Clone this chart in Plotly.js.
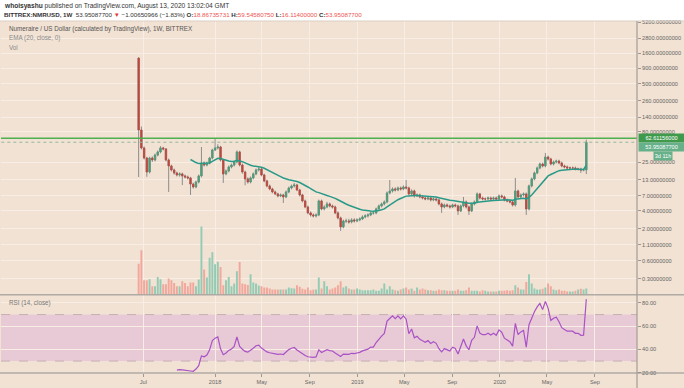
<!DOCTYPE html>
<html><head><meta charset="utf-8">
<script src="https://cdn.plot.ly/plotly-3.0.1.min.js"></script>
<style>html,body{margin:0;padding:0;background:#fff;}#chart{width:684px;height:388px;}</style>
</head><body><div id="chart"></div>
<script>
// Weekly NMR/USD candles (Bittrex), first bar week of 2017-06-19
const firstWeek = Date.UTC(2017, 5, 19);
const openP = [
1322,85.9,43.4,29.6,17.4,29.6,27.5,33.2,37.3,43.4,
41.8,27.5,21.9,18.8,16.8,15.55,16.2,15.0,14.4,13.9,
11.0,9.86,11.9,15.0,24.5,22.7,24.5,29.6,40.2,43.4,
45.0,27.5,16.2,18.1,21.1,22.7,25.5,37.3,22.7,17.4,
13.4,11.9,13.9,16.2,18.8,19.5,15.55,12.4,10.24,9.14,
8.16,7.56,7.01,7.28,6.75,8.16,9.49,10.24,10.64,8.80,
7.28,5.80,4.61,3.68,3.41,3.28,3.41,5.80,4.28,4.61,
5.17,4.79,4.61,3.68,3.04,2.16,2.71,2.71,2.61,2.82,
2.71,2.82,2.93,3.16,3.28,3.41,3.68,3.68,4.28,4.79,
5.17,5.58,7.85,8.47,9.14,8.80,9.49,9.14,9.86,9.49,
7.56,8.47,7.01,7.28,6.75,6.49,6.25,6.49,6.02,6.25,
6.02,5.17,4.61,4.98,4.79,4.61,4.98,4.79,3.97,4.79,
5.58,4.61,3.97,5.17,5.58,7.56,6.49,6.25,6.25,6.49,
6.25,6.49,6.25,7.01,6.75,6.02,5.80,5.58,4.98,8.47,
6.75,7.28,7.56,4.28,10.24,13.4,16.8,20.3,23.6,21.9,
30.8,28.5,23.6,25.5,26.4,24.5,21.9,21.1,20.3,20.3,
20.3,19.5,19.5,18.8,18.86735731];
const highP = [
1340,98,46,31,31,31.5,35,39.5,46.5,45.5,
43,29,23,19.8,17.6,17.2,17,15.8,15.2,14.5,
11.6,12.5,15.8,45.0,26,25.8,31,42,61.0,50,
47,28.5,19.2,22.3,24,27,39.5,39,24,18.3,
14.2,14.7,17.1,19.9,21.1,20.5,16.3,13,10.8,9.6,
8.6,7.9,7.7,7.6,8.6,10.0,10.8,11.5,11.1,9.2,
7.6,6.1,4.85,3.9,3.6,3.6,6.1,6.1,4.9,5.6,
5.45,5.05,4.85,3.9,3.2,2.85,2.95,2.95,3.0,3.0,
3.0,3.1,3.35,3.5,3.6,3.9,3.95,4.5,5.05,5.45,
5.9,8.3,12.86,9.7,9.7,10.0,10.0,10.5,12.86,10.0,
9.0,8.9,7.7,7.65,7.1,6.85,6.85,6.85,6.6,6.6,
6.35,5.45,5.25,5.25,5.05,5.25,5.25,5.05,5.05,6.75,
5.9,4.85,5.45,5.9,8.0,7.9,6.85,6.6,6.85,6.85,
6.85,6.85,7.4,7.4,7.1,6.35,6.1,5.9,13.9,8.9,
7.7,8.0,8.0,10.8,14.1,17.7,21.4,24.9,24.9,35.9,
32.4,29.9,26.9,27.8,27.8,25.8,23.0,22.2,21.4,21.4,
21.4,20.5,20.5,19.8,59.5458075];
const lowP = [
14.4,41,28,14.5,16.5,25.5,26,31.5,35.5,39.5,
26,8.16,17.8,15.8,14.7,14.6,10.6,13.6,13.1,7.28,
9.3,9.4,11.3,14.2,21.5,21.6,23.3,28.2,38.5,41,
26,11.5,15.4,17.2,20,21.5,24.2,21.5,16.3,10.5,
11.2,11.3,13.2,15.4,17.8,14.8,11.8,9.7,8.7,7.75,
7.2,6.65,6.7,5.37,6.45,7.8,9.0,9.7,8.4,6.9,
5.5,4.4,3.5,3.2,3.1,3.1,3.25,4.05,4.05,4.4,
4.55,4.35,3.5,2.88,1.86,2.05,2.5,2.45,2.48,2.55,
2.58,2.68,2.8,3.0,3.1,3.25,3.45,3.5,4.1,4.55,
4.9,5.3,7.45,8.0,8.3,8.4,8.6,8.7,9.0,7.2,
7.2,6.6,6.7,6.4,6.15,5.95,5.95,5.7,5.75,5.7,
4.9,3.68,4.4,4.55,4.35,4.4,4.55,3.41,3.8,4.55,
4.35,3.41,3.8,4.9,5.3,6.15,5.95,5.9,5.95,5.95,
5.95,5.95,5.95,6.4,5.7,5.5,5.3,4.7,4.7,6.4,
6.4,6.9,3.41,4.05,9.7,12.7,16.0,19.3,20.8,20.8,
27.0,22.4,22.4,24.2,23.3,20.8,20.0,19.3,19.3,19.3,
18.5,18.5,16.8,17.9,16.114];
const closeP = [
85.9,43.4,29.6,17.4,29.6,27.5,33.2,37.3,43.4,41.8,
27.5,21.9,18.8,16.8,15.55,16.2,15.0,14.4,13.9,11.0,
9.86,11.9,15.0,24.5,22.7,24.5,29.6,40.2,43.4,45.0,
27.5,16.2,18.1,21.1,22.7,25.5,37.3,22.7,17.4,13.4,
11.9,13.9,16.2,18.8,19.5,15.55,12.4,10.24,9.14,8.16,
7.56,7.01,7.28,6.75,8.16,9.49,10.24,10.64,8.80,7.28,
5.80,4.61,3.68,3.41,3.28,3.41,5.80,4.28,4.61,5.17,
4.79,4.61,3.68,3.04,2.16,2.71,2.71,2.61,2.82,2.71,
2.82,2.93,3.16,3.28,3.41,3.68,3.68,4.28,4.79,5.17,
5.58,7.85,8.47,9.14,8.80,9.49,9.14,9.86,9.49,7.56,
8.47,7.01,7.28,6.75,6.49,6.25,6.49,6.02,6.25,6.02,
5.17,4.61,4.98,4.79,4.61,4.98,4.79,3.97,4.79,5.58,
4.61,3.97,5.17,5.58,7.56,6.49,6.25,6.25,6.49,6.25,
6.49,6.25,7.01,6.75,6.02,5.80,5.58,4.98,8.47,6.75,
7.28,7.56,4.28,10.24,13.4,16.8,20.3,23.6,21.9,30.8,
28.5,23.6,25.5,26.4,24.5,21.9,21.1,20.3,20.3,20.3,
19.5,19.5,18.8,18.86735731,53.950877];
const volume = [
93,133,43,43,46,25,25,53,46,31,
31,48,43,35,25,25,40,35,25,36,
36,25,45,205,75,51,111,127,91,99,
83,28,43,53,25,33,70,98,33,31,
29,61,36,33,27,25,21,21,18,15,
15,15,15,15,15,21,19,18,28,23,
17,15,21,13,15,15,51,18,40,25,
15,18,21,28,40,21,25,18,15,15,
18,15,13,13,13,13,15,11,11,18,
33,15,25,15,13,11,15,18,21,15,
18,11,21,15,18,15,13,13,11,11,
15,13,13,11,11,11,11,15,11,11,
13,21,11,11,11,9,13,11,9,9,
9,9,11,11,11,13,11,13,28,21,
15,15,38,61,33,18,15,15,17,21,
33,25,15,13,15,11,11,9,9,9,
11,15,17,15,18];
const levelLine = 62.61156;
const lastPrice = 53.950877;
const countdown = '3d 11h';
const priceTicks = [0.3,0.6,1.1,2,4,7,13,25,80,140,260,500,900,1600,2800,5200];
const rsiTicks = [20,40,60,80];
const dateTickVals = ['2017-07-01','2018-01-01','2018-05-01','2018-09-01','2019-01-01','2019-05-01','2019-09-01','2020-01-01','2020-05-01','2020-09-01'];
const dateTickText = ['Jul','2018','May','Sep','2019','May','Sep','2020','May','Sep'];

const dates = closeP.map((_, i) => new Date(firstWeek + i * 7 * 86400000).toISOString().slice(0, 10));

function emaCalc(src, len) {
  const out = new Array(src.length).fill(null);
  const a = 2 / (len + 1); let s = 0;
  for (let i = 0; i < src.length; i++) {
    if (i < len - 1) { s += src[i]; continue; }
    if (i === len - 1) { s += src[i]; out[i] = s / len; continue; }
    out[i] = a * src[i] + (1 - a) * out[i - 1];
  }
  return out;
}
function rsiCalc(src, len) {
  const out = new Array(src.length).fill(null);
  let ag = 0, al = 0;
  for (let i = 1; i < src.length; i++) {
    const ch = src[i] - src[i - 1];
    const g = Math.max(ch, 0), l = Math.max(-ch, 0);
    if (i <= len) {
      ag += g; al += l;
      if (i === len) { ag /= len; al /= len; out[i] = al === 0 ? 100 : 100 - 100 / (1 + ag / al); }
    } else {
      ag = (ag * (len - 1) + g) / len; al = (al * (len - 1) + l) / len;
      out[i] = al === 0 ? 100 : 100 - 100 / (1 + ag / al);
    }
  }
  return out;
}
const ema20 = emaCalc(closeP, 20);
const rsi14 = rsiCalc(closeP, 14);

const UP = '#4f9e79', DN = '#c2463b', WICK = '#8d8d8d';
const BG = '#f2e2d3', GRID = '#f8eee5';
const FONT = 'Liberation Sans, Arial, sans-serif';

const bodyHigh = openP.map((o, i) => Math.max(o, closeP[i]));
const bodyLow = openP.map((o, i) => Math.min(o, closeP[i]));
const volColors = closeP.map((c, i) => c >= openP[i] ? '#93cbb5' : '#f1a79c');

const traces = [
  { type: 'bar', x: dates, y: volume, yaxis: 'y3', xaxis: 'x', width: 5 * 86400000,
    marker: { color: volColors, line: { width: 0 } }, hoverinfo: 'skip' },
  { type: 'candlestick', x: dates, open: openP, high: highP, low: lowP, close: closeP,
    xaxis: 'x', yaxis: 'y', whiskerwidth: 0,
    increasing: { line: { color: WICK, width: 1 }, fillcolor: WICK },
    decreasing: { line: { color: WICK, width: 1 }, fillcolor: WICK }, hoverinfo: 'skip' },
  { type: 'candlestick', x: dates, open: openP, high: bodyHigh, low: bodyLow, close: closeP,
    xaxis: 'x', yaxis: 'y', whiskerwidth: 0,
    increasing: { line: { color: UP, width: 0.6 }, fillcolor: UP },
    decreasing: { line: { color: DN, width: 0.6 }, fillcolor: DN }, hoverinfo: 'skip' },
  { type: 'scatter', mode: 'lines', x: dates, y: ema20, xaxis: 'x', yaxis: 'y',
    line: { color: '#2a9a88', width: 1.5 }, hoverinfo: 'skip' },
  { type: 'scatter', mode: 'lines', x: ['2016-06-01', '2021-02-01'], y: [levelLine, levelLine], xaxis: 'x', yaxis: 'y',
    line: { color: '#4caf50', width: 1.5 }, hoverinfo: 'skip' },
  { type: 'scatter', mode: 'lines', x: ['2016-06-01', '2021-02-01'], y: [lastPrice, lastPrice], xaxis: 'x', yaxis: 'y',
    line: { color: '#93b89c', width: 1, dash: 'dot' }, hoverinfo: 'skip' },
  { type: 'scatter', mode: 'lines', x: dates, y: rsi14, xaxis: 'x', yaxis: 'y2',
    line: { color: '#a952c6', width: 1.2 }, hoverinfo: 'skip' }
];

const logLo = -0.7807, logHi = 3.7325, pDom = 0.223;
function pricePaperY(v) { return pDom + (Math.log10(v) - logLo) / (logHi - logLo) * (1 - pDom); }
const fmt8 = v => v.toFixed(8);
// one box-height (about 9 px) between the stacked price labels, as the reference stacks them
const boxStep = 9 / 352;
const yLevelBox = pricePaperY(levelLine);
const yLastBox = yLevelBox - boxStep;
const yCountBox = yLastBox - boxStep;

const tickFont = { family: FONT, size: 5.6, color: '#666' };
const boxFont = { family: FONT, size: 5.6, color: '#ffffff' };
const layout = {
  width: 684, height: 388,
  margin: { l: 1, r: 47, t: 21, b: 15 },
  paper_bgcolor: BG, plot_bgcolor: BG,
  showlegend: false,
  font: { family: FONT },
  xaxis: { type: 'date', range: ['2016-07-01', '2020-12-18'], anchor: 'y2', rangeslider: { visible: false },
    tickmode: 'array', tickvals: dateTickVals, ticktext: dateTickText, ticks: 'outside', ticklen: 3, tickcolor: '#999',
    tickfont: tickFont, showgrid: true, gridcolor: GRID, gridwidth: 1, zeroline: false, showline: false },
  yaxis: { domain: [pDom, 1], type: 'log', range: [logLo, logHi], side: 'right', anchor: 'x',
    tickmode: 'array', tickvals: priceTicks, ticktext: priceTicks.map(fmt8), ticks: 'outside', ticklen: 3, tickcolor: '#999',
    tickfont: tickFont, showgrid: true, gridcolor: GRID, zeroline: false, showline: false },
  yaxis2: { domain: [0, pDom - 0.002], range: [19.73, 86.65], side: 'right', anchor: 'x',
    tickmode: 'array', tickvals: rsiTicks, ticktext: rsiTicks.map(v => v.toFixed(2)), ticks: 'outside', ticklen: 3, tickcolor: '#999',
    tickfont: tickFont, showgrid: true, gridcolor: GRID, zeroline: false, showline: false },
  yaxis3: { overlaying: 'y', range: [0, 824], visible: false, fixedrange: true },
  shapes: [
    { type: 'rect', xref: 'paper', yref: 'paper', x0: -0.01, x1: 1.1, y0: 1, y1: 1.08, fillcolor: '#ffffff', line: { width: 0 }, layer: 'below' },
    { type: 'rect', xref: 'paper', yref: 'y2', x0: 0, x1: 1, y0: 30, y1: 70, fillcolor: '#e8cad6', line: { width: 0 }, layer: 'below' },
    { type: 'line', xref: 'paper', yref: 'y2', x0: 0, x1: 1, y0: 70, y1: 70, line: { color: '#c8aeb4', width: 1, dash: 'dash' }, layer: 'below' },
    { type: 'line', xref: 'paper', yref: 'y2', x0: 0, x1: 1, y0: 30, y1: 30, line: { color: '#c8aeb4', width: 1, dash: 'dash' }, layer: 'below' },
    { type: 'line', xref: 'paper', yref: 'paper', x0: -0.002, x1: 1.075, y0: 1, y1: 1, line: { color: '#d9cfc5', width: 1 } },
    { type: 'line', xref: 'paper', yref: 'paper', x0: -0.002, x1: 1.075, y0: pDom - 0.001, y1: pDom - 0.001, line: { color: '#8f8f8f', width: 1 } },
    { type: 'line', xref: 'paper', yref: 'paper', x0: -0.002, x1: 1.075, y0: 0, y1: 0, line: { color: '#8f8f8f', width: 1 } },
    { type: 'line', xref: 'paper', yref: 'paper', x0: 1, x1: 1, y0: -0.045, y1: 1, line: { color: '#a59d96', width: 1.2 } }
  ],
  annotations: [
    { xref: 'paper', yref: 'paper', x: 0.0016, y: 1.044, xanchor: 'left', yanchor: 'middle', showarrow: false,
      text: '<b>whoisyashu</b> published on TradingView.com, August 13, 2020 13:02:04 GMT', font: { family: FONT, size: 6.6, color: '#333' } },
    { xref: 'paper', yref: 'paper', x: 0.0016, y: 1.0185, xanchor: 'left', yanchor: 'middle', showarrow: false,
      text: '<b>BITTREX:NMRUSD, 1W</b>  53.95087700 <span style="color:#e53935">▼</span> −1.00650966 (−1.83%) <b>O:</b><span style="color:#ef5350">18.86735731</span> <b>H:</b><span style="color:#ef5350">59.54580750</span> <b>L:</b><span style="color:#ef5350">16.11400000</span> <b>C:</b><span style="color:#ef5350">53.95087700</span>',
      font: { family: FONT, size: 6.2, color: '#333' } },
    { xref: 'paper', yref: 'paper', x: 0.0094, y: 0.9764, xanchor: 'left', yanchor: 'middle', showarrow: false,
      text: 'Numeraire / US Dollar (calculated by TradingView), 1W, BITTREX', font: { family: FONT, size: 6.3, color: '#555' } },
    { xref: 'paper', yref: 'paper', x: 0.0094, y: 0.9509, xanchor: 'left', yanchor: 'middle', showarrow: false,
      text: 'EMA (20, close, 0)', font: { family: FONT, size: 6.3, color: '#8a8a8a' } },
    { xref: 'paper', yref: 'paper', x: 0.0094, y: 0.9261, xanchor: 'left', yanchor: 'middle', showarrow: false,
      text: 'Vol', font: { family: FONT, size: 6.3, color: '#8a8a8a' } },
    { xref: 'paper', yref: 'paper', x: 0.0094, y: 0.198, xanchor: 'left', yanchor: 'middle', showarrow: false,
      text: 'RSI (14, close)', font: { family: FONT, size: 6.3, color: '#777' } },
    { xref: 'paper', yref: 'paper', x: 1.0015, y: yLevelBox, xanchor: 'left', yanchor: 'middle', showarrow: false,
      text: fmt8(levelLine), width: 44, height: 6.5, align: 'center', valign: 'middle', borderpad: 0.5, bgcolor: '#3f9a4c', font: boxFont },
    { xref: 'paper', yref: 'paper', x: 1.0015, y: yLastBox, xanchor: 'left', yanchor: 'middle', showarrow: false,
      text: '53.95087700', width: 44, height: 6.5, align: 'center', valign: 'middle', borderpad: 0.5, bgcolor: '#66b08a', font: boxFont },
    { xref: 'paper', yref: 'paper', x: 1.0409, y: yCountBox, xanchor: 'center', yanchor: 'middle', showarrow: false,
      text: countdown, width: 17, height: 6.5, align: 'center', valign: 'middle', borderpad: 0.5, bgcolor: '#66b08a', font: boxFont }
  ]
};

Plotly.newPlot('chart', traces, layout, { staticPlot: true, displayModeBar: false });
</script>
</body></html>
